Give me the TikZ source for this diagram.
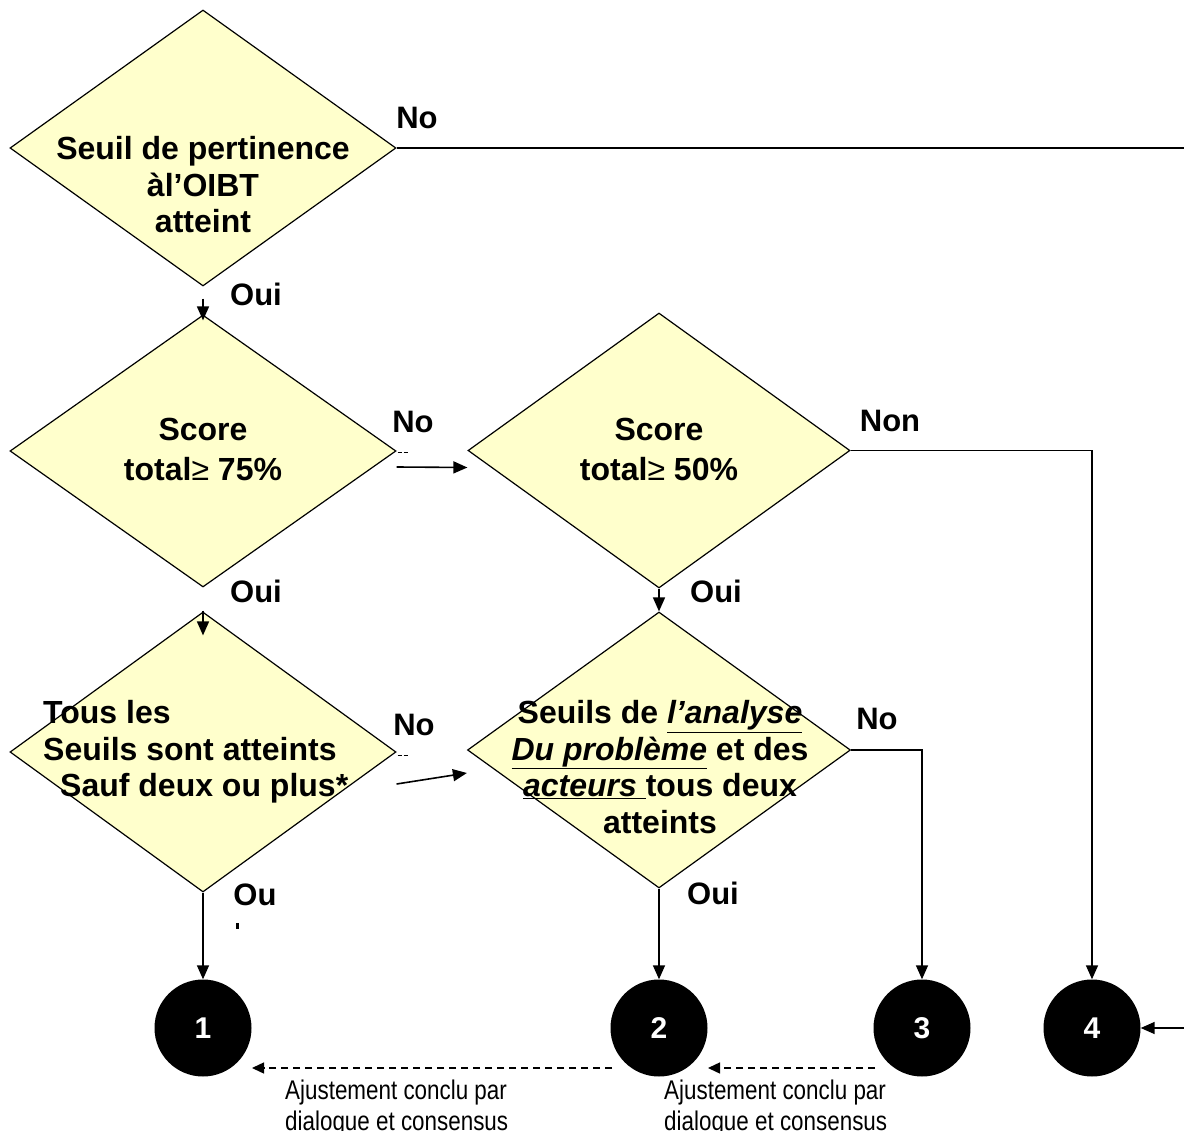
\documentclass[tikz,border=0pt]{standalone}
\usepackage{fontspec}
\setmainfont{Liberation Sans}
\newfontfamily\narrowfont[FakeStretch=0.83]{Liberation Sans}
\usetikzlibrary{shapes.geometric,arrows.meta,calc}
\definecolor{dfill}{HTML}{FFFFCC}
\begin{document}
\begin{tikzpicture}[x=1pt,y=-1pt,
  dia/.style={shape=diamond, draw=black, line width=1.2pt, fill=dfill, inner sep=0pt},
  txt/.style={font=\bfseries\fontsize{32pt}{36.5pt}\selectfont, inner sep=0pt, align=center},
  lab/.style={font=\bfseries\fontsize{31pt}{36pt}\selectfont, inner sep=0pt},
  num/.style={circle, fill=black, minimum size=97pt, inner sep=0pt, text=white, font=\bfseries\fontsize{30pt}{34pt}\selectfont},
  conn/.style={line width=1.6pt, -{Triangle[length=14pt,width=12pt]}},
  dashconn/.style={line width=1.4pt, dash pattern=on 7pt off 5pt, -{Triangle[length=12pt,width=11pt]}},
  note/.style={font=\narrowfont\fontsize{27pt}{31pt}\selectfont, align=left, inner sep=0pt},
  tick/.style={line width=0.8pt, dash pattern=on 4pt off 2pt}
]
\useasboundingbox (0,0) rectangle (1184,1131);
\clip (0,0) rectangle (1184,1131);

% diamonds
\node[dia, minimum width=386pt, minimum height=276pt] (d1) at (203,148) {};
\node[dia, minimum width=386pt, minimum height=272pt] (d2) at (203,451) {};
\node[dia, minimum width=382pt, minimum height=275pt] (d3) at (659,450.5) {};
\node[dia, minimum width=386pt, minimum height=280pt] (d4) at (203,752) {};
\node[dia, minimum width=383pt, minimum height=276pt] (d5) at (659,750) {};

% diamond texts
\node[txt] (t1) at (203,185) {Seuil de pertinence\\àl’OIBT\\atteint};
\node[txt, font=\bfseries\fontsize{32pt}{40pt}\selectfont] (t2) at (203,449) {Score\\total\textmd{≥} 75\%};
\node[txt, font=\bfseries\fontsize{32pt}{40pt}\selectfont] (t3) at (659,449) {Score\\total\textmd{≥} 50\%};
\node[txt, align=left, anchor=west] (t4) at (43,752) {Tous les\\Seuils sont atteints\\\hspace*{17pt}Sauf deux ou plus*};
\node[txt] (t5) at (660,767) {Seuils de \underline{\textit{l’analyse}}\\\underline{\textit{Du problème}} et des\\\underline{\textit{acteurs }}tous deux\\atteints};

% circles
\node[num] (c1) at (203,1028) {1};
\node[num] (c2) at (659,1028) {2};
\node[num] (c3) at (922,1028) {3};
\node[num] (c4) at (1092,1028) {4};

% connectors
\draw[conn] (d1.east) -- (1230,148) -- (1230,1028) -- (c4.east);
\draw[conn] ($(d1.south)+(0,12)$) -- ($(d2.north)+(0,6)$);
\draw[conn] ($(d2.east)+(0,16)$) -- ($(d3.west)+(0,17)$);
\draw[conn] (d3.east) -| (c4.north);
\draw[conn] ($(d2.south)+(0,23)$) -- ($(d4.north)+(0,24)$);
\draw[conn] (d3.south) -- (d5.north);
\draw[conn] ($(d4.east)+(0,32)$) -- ($(d5.west)+(0,23)$);
\draw[conn] (d5.east) -| (c3.north);
\draw[conn] (d4.south) -- (c1.north);
\draw[conn] (d5.south) -- (c2.north);
\draw[dashconn] ($(c2.center)+(-47,40)$) -- ($(c1.center)+(49,40)$);
\draw[dashconn] ($(c3.center)+(-47,40)$) -- ($(c2.center)+(49,40)$);

% small marks
\draw[tick] ($(d2.east)+(1,1)$) -- ($(d2.east)+(11,1)$);
\draw[tick] ($(d4.east)+(1,3)$) -- ($(d4.east)+(11,3)$);
\fill (235.5,923) rectangle (238.5,929);

% labels
\node[lab] (l1) at (417,118) {No};
\node[lab] (l2) at (256,294) {Oui};
\node[lab] (l3) at (413,422) {No};
\node[lab] (l4) at (890,421) {Non};
\node[lab] (l5) at (256,591) {Oui};
\node[lab] (l6) at (716,591) {Oui};
\node[lab] (l7) at (414,725) {No};
\node[lab] (l8) at (877,719) {No};
\node[lab] (l9) at (255,895) {Ou};
\node[lab] (l10) at (713,893) {Oui};

% notes
\node[note, anchor=west] (n1) at (285,1108) {Ajustement conclu par\\dialogue et consensus};
\node[note, anchor=west] (n2) at (664,1108) {Ajustement conclu par\\dialogue et consensus};
\end{tikzpicture}
\end{document}
